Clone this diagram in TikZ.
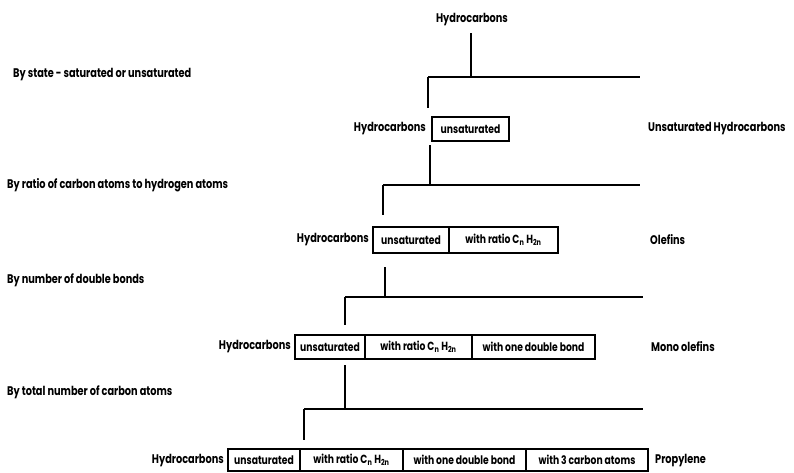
\documentclass[tikz,border=0pt]{standalone}
\usepackage{fontspec}
\setmainfont{Poppins}[FakeStretch=0.78]
\begin{document}
\begin{tikzpicture}[x=1pt,y=-1pt,
  txt/.style={inner sep=0pt,font=\fontsize{12.5}{14}\selectfont\bfseries},
  cell/.style={draw,line width=1.2pt,inner sep=0pt,minimum height=24pt,font=\fontsize{11.8}{14}\selectfont\bfseries},
  conn/.style={line width=1.8pt}]
\useasboundingbox (0,0) rectangle (794,472);
% level 0
\node[txt] (t0) at (472,20) {Hydrocarbons};
\coordinate (v0a) at (471,33);
\coordinate (b1l) at (428,77);
\coordinate (b1r) at (640,77);
\coordinate (v1e) at (428,108);
\draw[conn] (v0a) -- (v0a |- b1l);
\draw[conn] (b1l) -- (b1r);
\draw[conn] (b1l) -- (v1e);
% left labels
\node[txt,anchor=west] (s1) at (13,75) {By state - saturated or unsaturated};
\node[txt,anchor=west] (s2) at (7,185) {By ratio of carbon atoms to hydrogen atoms};
\node[txt,anchor=west] (s3) at (7,280) {By number of double bonds};
\node[txt,anchor=west] (s4) at (7,392) {By total number of carbon atoms};
% level 1
\node[cell,minimum width=77pt] (u1) at (470.5,129) {unsaturated};
\node[txt,anchor=east] (h1) at (426,129) {Hydrocarbons};
\node[txt,anchor=west] (r1) at (648,129) {Unsaturated Hydrocarbons};
\coordinate (v1a) at (430,145);
\coordinate (b2l) at (383,185);
\coordinate (b2r) at (640,185);
\coordinate (v2e) at (383,215);
\draw[conn] (v1a) -- (v1a |- b2l);
\draw[conn] (b2l) -- (b2r);
\draw[conn] (b2l) -- (v2e);
% level 2
\node[cell,minimum width=76pt,minimum height=26pt] (u2) at (411,240) {unsaturated};
\node[cell,minimum width=109pt,minimum height=26pt] (w2) at (503.5,240) {with ratio C\textsubscript{n} H\textsubscript{2n}};
\node[txt,anchor=east] (h2) at (369,240) {Hydrocarbons};
\node[txt,anchor=west] (r2) at (650,240) {Olefins};
\coordinate (v2a) at (385,267);
\coordinate (b3l) at (345,297);
\coordinate (b3r) at (643,297);
\coordinate (v3e) at (345,325);
\draw[conn] (v2a) -- (v2a |- b3l);
\draw[conn] (b3l) -- (b3r);
\draw[conn] (b3l) -- (v3e);
% level 3
\node[cell,minimum width=70pt] (u3) at (330,347) {unsaturated};
\node[cell,minimum width=107pt] (w3) at (418.5,347) {with ratio C\textsubscript{n} H\textsubscript{2n}};
\node[cell,minimum width=123pt] (d3) at (533.5,347) {with one double bond};
\node[txt,anchor=east] (h3) at (291,347) {Hydrocarbons};
\node[txt,anchor=west] (r3) at (651,347) {Mono olefins};
\coordinate (v3a) at (345,365);
\coordinate (b4l) at (304,409);
\coordinate (b4r) at (643,409);
\coordinate (v4e) at (304,440);
\draw[conn] (v3a) -- (v3a |- b4l);
\draw[conn] (b4l) -- (b4r);
\draw[conn] (b4l) -- (v4e);
% level 4
\node[cell,minimum width=72pt,minimum height=22pt] (u4) at (264,460) {unsaturated};
\node[cell,minimum width=103pt,minimum height=22pt] (w4) at (351.5,460) {with ratio C\textsubscript{n} H\textsubscript{2n}};
\node[cell,minimum width=123pt,minimum height=22pt] (d4) at (464.5,460) {with one double bond};
\node[cell,minimum width=122pt,minimum height=22pt] (c4) at (587,460) {with 3 carbon atoms};
\node[txt,anchor=east] (h4) at (224,461) {Hydrocarbons};
\node[txt,anchor=west] (r4) at (655,461) {Propylene};
\end{tikzpicture}
\end{document}
